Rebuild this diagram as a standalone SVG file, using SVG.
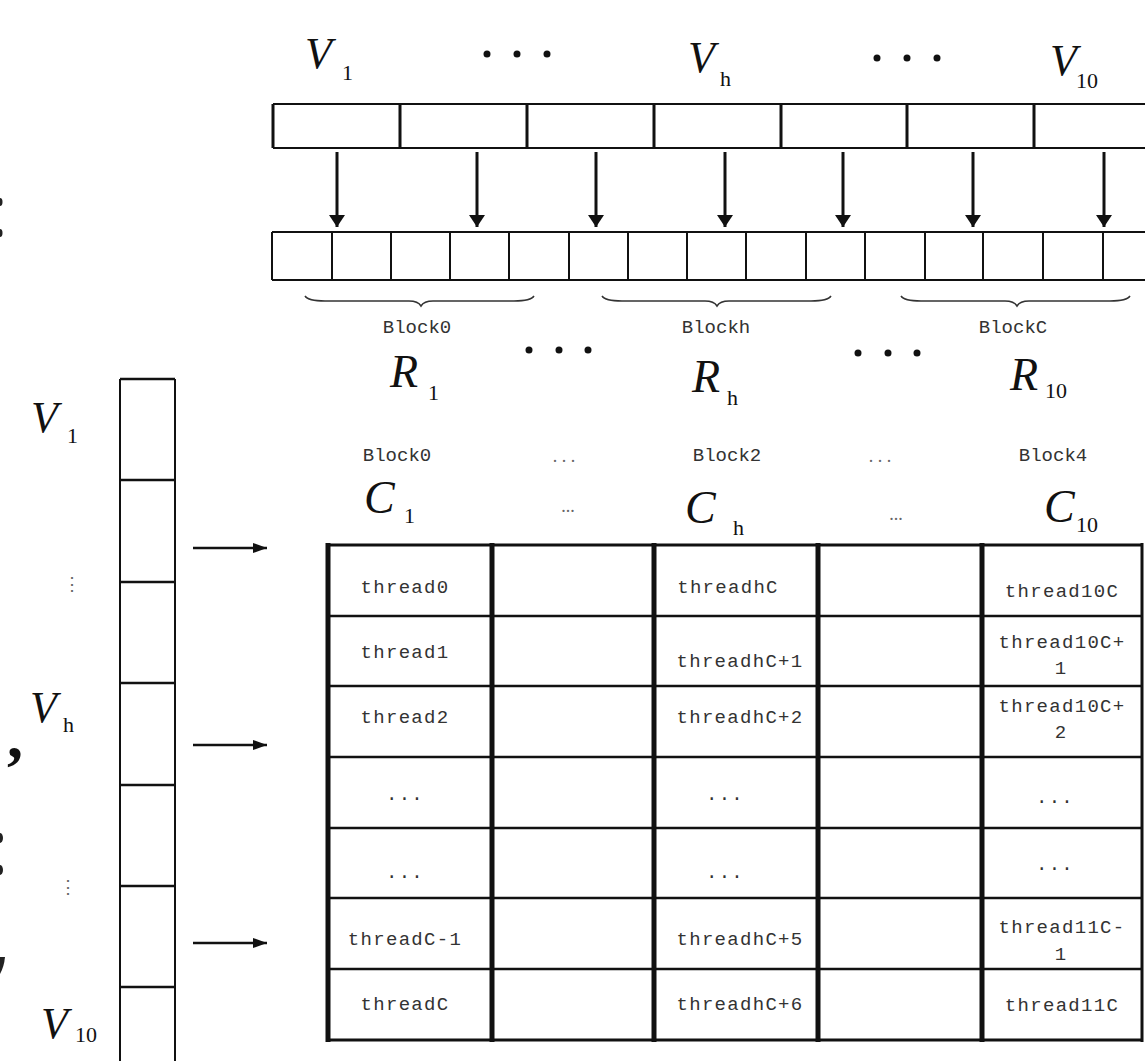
<svg xmlns="http://www.w3.org/2000/svg" width="1145" height="1061" viewBox="0 0 1145 1061">
  <defs>
    <!-- both heads are drawn pointing along +x and turned by orient="auto" -->
    <marker id="headDown" viewBox="0 0 12 16" refX="12" refY="8" markerWidth="12" markerHeight="16" markerUnits="userSpaceOnUse" orient="auto">
      <path d="M0,0 L12,8 L0,16 Z" fill="#111"/>
    </marker>
    <marker id="headRight" viewBox="0 0 14 10" refX="14" refY="5" markerWidth="14" markerHeight="10" markerUnits="userSpaceOnUse" orient="auto">
      <path d="M0,0 L14,5 L0,10 Z" fill="#111"/>
    </marker>
  </defs>
  <style>
    .math { font-family: "Liberation Serif", "Times New Roman", serif; font-style: italic; fill: #111; }
    .sub { font-family: "Liberation Serif", "Times New Roman", serif; fill: #111; }
    .mono { font-family: "Liberation Mono", "Courier New", monospace; fill: #333; }
    .blk { font-size: 19px; }
    .cell { font-size: 19px; letter-spacing: 1.3px; }
    .grid { fill: none; stroke: #111; }
    .thick { stroke-width: 5; }
    .brace { fill: none; stroke: #333; stroke-width: 1.5; }
    .dot { fill: #111; }
    .sdot { font-family: "Liberation Serif", serif; fill: #666; font-size: 18px; }
    .edge { font-family: "Liberation Serif", serif; font-weight: bold; fill: #111; }
  </style>
  <rect width="1145" height="1061" fill="#fff"/>

  <!-- marks along the left edge -->
  <g id="edge-marks" fill="#222">
    <ellipse cx="0" cy="202" rx="2.5" ry="4"/>
    <ellipse cx="0" cy="233" rx="2.5" ry="4"/>
    <text class="edge" x="7" y="757" font-size="64">,</text>
    <ellipse cx="0" cy="838" rx="3" ry="5"/>
    <ellipse cx="0" cy="870" rx="3" ry="5"/>
    <path d="M0,957 L5,957 Q4,967 0,974 Z"/>
  </g>

  <!-- top labels -->
  <g id="top-labels">
    <text class="math" x="305" y="68" font-size="44">V</text>
    <text class="sub" x="342" y="80" font-size="22">1</text>
    <circle class="dot" cx="487" cy="54" r="3.5"/><circle class="dot" cx="517" cy="54" r="3.5"/><circle class="dot" cx="547" cy="54" r="3.5"/>
    <text class="math" x="688" y="72" font-size="44">V</text>
    <text class="sub" x="720" y="86" font-size="22">h</text>
    <circle class="dot" cx="877" cy="58" r="3.5"/><circle class="dot" cx="907" cy="58" r="3.5"/><circle class="dot" cx="937" cy="58" r="3.5"/>
    <text class="math" x="1050" y="75" font-size="44">V</text>
    <text class="sub" x="1076" y="88" font-size="22">10</text>
  </g>

  <!-- coarse array -->
  <g id="array-top">
    <path class="grid" stroke-width="2" d="M273,104 H1150 M273,148 H1150"/>
    <path class="grid" stroke-width="3" d="M273,104 V148 M400,104 V148 M527,104 V148 M654,104 V148 M781,104 V148 M907,104 V148 M1034,104 V148"/>
  </g>

  <!-- fine array -->
  <g id="array-bottom">
    <path class="grid" stroke-width="2" d="M272,232 H1150 M272,280 H1150"/>
    <path class="grid" stroke-width="2" d="M272,232 V280 M332,232 V280 M391,232 V280 M450,232 V280 M509,232 V280 M569,232 V280 M628,232 V280 M687,232 V280 M746,232 V280 M806,232 V280 M865,232 V280 M925,232 V280 M983,232 V280 M1043,232 V280 M1103,232 V280"/>
  </g>

  <!-- block braces and labels -->
  <g id="braces">
    <path class="brace" d="M305,296 Q308,301 325,301 L409,301 Q418,301 421,306 Q424,301 433,301 L514,301 Q531,301 534,296"/>
    <path class="brace" d="M602,296 Q605,301 622,301 L705,301 Q714,301 717,306 Q720,301 729,301 L811,301 Q828,301 831,296"/>
    <path class="brace" d="M901,296 Q904,301 921,301 L1005,301 Q1014,301 1017,306 Q1020,301 1029,301 L1110,301 Q1127,301 1130,296"/>
    <text class="mono blk" x="417" y="333" text-anchor="middle">Block0</text>
    <text class="mono blk" x="716" y="333" text-anchor="middle">Blockh</text>
    <text class="mono blk" x="1013" y="333" text-anchor="middle">BlockC</text>
  </g>

  <!-- R labels -->
  <g id="r-labels">
    <text class="math" x="390" y="387" font-size="46">R</text>
    <text class="sub" x="428" y="400" font-size="22">1</text>
    <circle class="dot" cx="529" cy="350" r="3.5"/><circle class="dot" cx="559" cy="350" r="3.5"/><circle class="dot" cx="588" cy="350" r="3.5"/>
    <text class="math" x="692" y="392" font-size="46">R</text>
    <text class="sub" x="727" y="405" font-size="22">h</text>
    <circle class="dot" cx="858" cy="353" r="3.5"/><circle class="dot" cx="888" cy="353" r="3.5"/><circle class="dot" cx="917" cy="353" r="3.5"/>
    <text class="math" x="1010" y="390" font-size="46">R</text>
    <text class="sub" x="1045" y="398" font-size="22">10</text>
  </g>

  <!-- block row -->
  <g id="block-row">
    <text class="mono blk" x="397" y="461" text-anchor="middle">Block0</text>
    <text class="sdot" x="564" y="462" text-anchor="middle">. . .</text>
    <text class="mono blk" x="727" y="461" text-anchor="middle">Block2</text>
    <text class="sdot" x="880" y="462" text-anchor="middle">. . .</text>
    <text class="mono blk" x="1053" y="461" text-anchor="middle">Block4</text>
  </g>

  <!-- C labels -->
  <g id="c-labels">
    <text class="math" x="364" y="513" font-size="46">C</text>
    <text class="sub" x="404" y="523" font-size="22">1</text>
    <text class="sdot" x="568" y="512" text-anchor="middle" font-size="14">...</text>
    <text class="math" x="685" y="523" font-size="46">C</text>
    <text class="sub" x="733" y="535" font-size="22">h</text>
    <text class="sdot" x="896" y="520" text-anchor="middle" font-size="14">...</text>
    <text class="math" x="1044" y="522" font-size="46">C</text>
    <text class="sub" x="1076" y="532" font-size="22">10</text>
  </g>

  <!-- vertical array on the left -->
  <g id="array-left">
    <path class="grid" stroke-width="2" d="M120,379 V1070 M175,379 V1070"/>
    <path class="grid" stroke-width="2.5" d="M120,379 H175 M120,480 H175 M120,582 H175 M120,683 H175 M120,785 H175 M120,886 H175 M120,987 H175"/>
    <text class="math" x="31" y="432" font-size="44">V</text>
    <text class="sub" x="67" y="443" font-size="22">1</text>
    <text class="sdot" x="72" y="590" text-anchor="middle" font-size="20">⋮</text>
    <text class="math" x="30" y="722" font-size="44">V</text>
    <text class="sub" x="63" y="732" font-size="22">h</text>
    <text class="sdot" x="68" y="893" text-anchor="middle" font-size="20">⋮</text>
    <text class="math" x="41" y="1038" font-size="44">V</text>
    <text class="sub" x="75" y="1042" font-size="22">10</text>
  </g>

  <!-- thread table -->
  <g id="thread-table">
    <path class="grid" stroke-width="2.5" d="M328,616 H1143 M328,686 H1143 M328,757 H1143 M328,828 H1143 M328,898 H1143 M328,969 H1143"/>
    <path class="grid" stroke-width="3" d="M328,545 H1143 M328,1040 H1143"/>
    <path class="grid thick" d="M328,543 V1042 M492,543 V1042 M654,543 V1042 M818,543 V1042 M982,543 V1042"/>
    <path class="grid" stroke-width="3" d="M1142,543 V1042"/>

    <g class="mono cell" text-anchor="middle">
      <text x="405" y="593">thread0</text>
      <text x="405" y="658">thread1</text>
      <text x="405" y="723">thread2</text>
      <text x="405" y="800">...</text>
      <text x="405" y="878">...</text>
      <text x="405" y="945">threadC-1</text>
      <text x="405" y="1010">threadC</text>

      <text x="728" y="593">threadhC</text>
      <text x="740" y="667">threadhC+1</text>
      <text x="740" y="723">threadhC+2</text>
      <text x="725" y="800">...</text>
      <text x="725" y="878">...</text>
      <text x="740" y="945">threadhC+5</text>
      <text x="740" y="1010">threadhC+6</text>

      <text x="1062" y="597">thread10C</text>
      <text x="1062" y="648">thread10C+</text>
      <text x="1061" y="674">1</text>
      <text x="1062" y="712">thread10C+</text>
      <text x="1061" y="738">2</text>
      <text x="1055" y="803">...</text>
      <text x="1055" y="870">...</text>
      <text x="1062" y="933">thread11C-</text>
      <text x="1061" y="960">1</text>
      <text x="1062" y="1011">thread11C</text>
    </g>
  </g>

  <!-- connectors -->
  <g id="connectors" stroke="#111" fill="none">
    <g stroke-width="3" marker-end="url(#headDown)">
      <line x1="337" y1="152" x2="337" y2="227"/>
      <line x1="477" y1="152" x2="477" y2="227"/>
      <line x1="596" y1="152" x2="596" y2="227"/>
      <line x1="725" y1="152" x2="725" y2="227"/>
      <line x1="843" y1="152" x2="843" y2="227"/>
      <line x1="973" y1="152" x2="973" y2="227"/>
      <line x1="1104" y1="152" x2="1104" y2="227"/>
    </g>
    <g stroke-width="2.5" marker-end="url(#headRight)">
      <line x1="193" y1="548" x2="267" y2="548"/>
      <line x1="193" y1="745" x2="267" y2="745"/>
      <line x1="193" y1="943" x2="267" y2="943"/>
    </g>
  </g>
</svg>
